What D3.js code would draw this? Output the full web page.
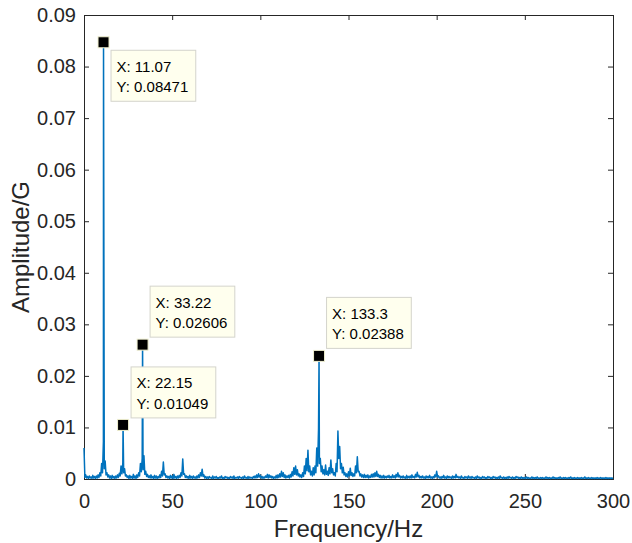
<!DOCTYPE html>
<html lang="en">

<head>
  <meta charset="utf-8">
  <title>Amplitude spectrum</title>
  <script src="https://cdnjs.cloudflare.com/ajax/libs/d3/7.6.1/d3.min.js"></script>
  <style>
    body { margin: 0; background: white; }
    text { font-family: "Liberation Sans", Arial, sans-serif; }
  </style>
</head>

<body>

  <figure id="chart" style="margin:0"></figure>

  <script>
    // noise floor, one value per Hz from 0 to 300 Hz, in units of 1e-4 G
    const floorAmps = [
      60, 8, 5, 6, 4, 7, 5, 6, 8, 12,
      30, 72, 35, 12, 8, 6, 7, 5, 6, 8,
      11, 25, 30, 20, 8, 6, 7, 5, 9, 6,
      8, 12, 30, 40, 45, 15, 9, 6, 8, 5,
      7, 6, 5, 8, 15, 33, 10, 6, 5, 7,
      6, 9, 5, 6, 7, 12, 39, 10, 6, 5,
      7, 5, 6, 4, 6, 8, 12, 19, 8, 5,
      4, 5, 3, 6, 4, 5, 3, 4, 6, 3,
      5, 4, 3, 5, 4, 6, 3, 4, 5, 3,
      4, 6, 3, 5, 4, 3, 5, 6, 8, 10,
      7, 5, 4, 6, 9, 8, 6, 5, 4, 7,
      8, 10, 15, 12, 8, 6, 7, 9, 14, 22,
      25, 18, 10, 8, 12, 25, 40, 56, 25, 15,
      22, 25, 60, 97, 40, 25, 18, 27, 15, 22,
      37, 20, 12, 30, 93, 63, 30, 23, 12, 10,
      14, 21, 12, 10, 25, 43, 15, 10, 8, 9,
      7, 8, 6, 9, 10, 12, 15, 9, 7, 6,
      7, 5, 6, 7, 5, 8, 6, 9, 12, 7,
      5, 6, 4, 7, 5, 6, 8, 5, 9, 13,
      7, 5, 6, 4, 6, 5, 7, 4, 5, 8,
      15, 6, 4, 5, 7, 4, 6, 5, 4, 6,
      5, 9, 5, 4, 6, 3, 5, 4, 6, 4,
      5, 3, 4, 6, 4, 3, 5, 4, 3, 5,
      4, 3, 5, 4, 3, 4, 6, 3, 4, 3,
      4, 5, 3, 4, 3, 5, 4, 3, 4, 3,
      3, 4, 3, 2, 4, 3, 3, 4, 2, 3,
      3, 2, 4, 3, 3, 2, 4, 3, 2, 3,
      4, 2, 3, 3, 2, 3, 4, 2, 3, 2,
      3, 2, 3, 2, 4, 2, 3, 2, 3, 2,
      2, 3, 2, 3, 2, 2, 3, 2, 2, 2,
      2
    ];

    // troughs between the floor values, at 0.5, 1.5, ... 299.5 Hz, in units of 1e-4 G
    const troughAmps = [
      3, 2, 1, 2, 1, 2, 1, 2, 3, 6,
      12, 20, 8, 4, 2, 1, 2, 1, 2, 3,
      6, 10, 12, 6, 3, 1, 2, 1, 2, 1,
      3, 6, 14, 18, 9, 5, 3, 2, 2, 1,
      2, 1, 2, 3, 6, 8, 3, 2, 1, 2,
      1, 2, 1, 2, 3, 6, 9, 3, 2, 1,
      2, 1, 2, 1, 2, 3, 6, 5, 2, 1,
      1, 2, 1, 1, 2, 1, 1, 2, 1, 1,
      2, 1, 1, 2, 1, 1, 2, 1, 2, 1,
      1, 2, 1, 1, 2, 1, 2, 2, 3, 4,
      2, 1, 2, 3, 2, 3, 2, 1, 2, 2,
      3, 4, 5, 3, 2, 3, 2, 4, 6, 9,
      8, 6, 4, 3, 5, 10, 16, 14, 8, 6,
      8, 12, 25, 30, 14, 10, 8, 9, 7, 10,
      12, 8, 6, 14, 40, 20, 12, 8, 5, 4,
      6, 7, 5, 6, 12, 14, 6, 4, 3, 3,
      3, 2, 3, 4, 4, 5, 5, 3, 2, 2,
      2, 2, 3, 2, 2, 3, 2, 4, 4, 2,
      2, 2, 1, 2, 2, 2, 3, 2, 4, 4,
      2, 2, 2, 1, 2, 2, 2, 1, 2, 4,
      4, 2, 1, 2, 2, 1, 2, 2, 1, 2,
      2, 3, 2, 1, 2, 1, 2, 1, 2, 1,
      2, 1, 1, 2, 1, 1, 2, 1, 1, 2,
      1, 1, 2, 1, 1, 1, 2, 1, 1, 1,
      1, 2, 1, 1, 1, 2, 1, 1, 1, 1,
      1, 1, 1, 1, 1, 1, 1, 1, 1, 1,
      1, 1, 1, 1, 1, 1, 1, 1, 1, 1,
      1, 1, 1, 1, 1, 1, 1, 1, 1, 1,
      1, 1, 1, 1, 1, 1, 1, 1, 1, 1,
      1, 1, 1, 1, 1, 1, 1, 1, 1, 1
    ];

    // marked peaks (data tips)
    const peakFreqs = [11.07, 22.15, 33.22, 133.3];
    const peakAmps = [0.08471, 0.01049, 0.02606, 0.02388];

    const xTicks = [0, 50, 100, 150, 200, 250, 300];
    const yTicks = [0, 0.01, 0.02, 0.03, 0.04, 0.05, 0.06, 0.07, 0.08, 0.09];

    createChart('figure#chart', 632, 543);

    function createChart(elementId, width, height) {

      const margin = { left: 84, top: 15, right: 19, bottom: 64 };
      const w = width - margin.left - margin.right;
      const h = height - margin.top - margin.bottom;

      // spectrum points: floor grid, troughs and peaks merged by frequency
      const spectrum = floorAmps.map((a, i) => ({ f: i, a: a * 1e-4 }))
        .concat(troughAmps.map((a, i) => ({ f: i + 0.5, a: a * 1e-4 })))
        .concat(peakFreqs.map((f, i) => ({ f: f, a: peakAmps[i] })))
        .sort((p, q) => p.f - q.f);

      const svg = d3.select(elementId)
        .append('svg')
        .attr('width', width)
        .attr('height', height)
        .append('g')
        .attr('transform', `translate(${margin.left}, ${margin.top})`);

      const xScale = d3.scaleLinear().domain([0, 300]).range([0, w]);
      const yScale = d3.scaleLinear().domain([0, 0.09]).range([h, 0]);

      const axisColor = '#262626';
      const tickSize = 5;

      // bottom / top axes, ticks pointing inward
      const xAxis = svg.append('g')
        .attr('transform', `translate(0, ${h})`)
        .call(d3.axisBottom(xScale).tickValues(xTicks).tickSize(-tickSize).tickPadding(15)
          .tickFormat(d3.format('d')));
      svg.append('g')
        .call(d3.axisTop(xScale).tickValues(xTicks).tickSize(-tickSize).tickFormat(''));

      // left / right axes
      svg.append('g')
        .call(d3.axisLeft(yScale).tickValues(yTicks).tickSize(-tickSize).tickPadding(8)
          .tickFormat(d => d === 0 ? '0' : d3.format('.2f')(d)));
      svg.append('g')
        .attr('transform', `translate(${w}, 0)`)
        .call(d3.axisRight(yScale).tickValues(yTicks).tickSize(-tickSize).tickFormat(''));

      svg.selectAll('.domain, .tick line')
        .attr('stroke', axisColor)
        .attr('stroke-width', 1);
      svg.selectAll('.tick text')
        .attr('fill', axisColor)
        .style('font-size', '20px');
      xAxis.selectAll('.tick text').attr('dy', '0.71em');

      // axis labels
      svg.append('text')
        .attr('x', w / 2)
        .attr('y', h + 58)
        .attr('text-anchor', 'middle')
        .attr('fill', axisColor)
        .style('font-size', '24px')
        .text('Frequency/Hz');

      svg.append('text')
        .attr('transform', `translate(${-55}, ${h / 2}) rotate(-90)`)
        .attr('text-anchor', 'middle')
        .attr('fill', axisColor)
        .style('font-size', '24px')
        .text('Amplitude/G');

      // spectrum line
      const line = d3.line()
        .x(p => xScale(p.f))
        .y(p => yScale(p.a));

      svg.append('path')
        .datum(spectrum)
        .attr('d', line)
        .attr('fill', 'none')
        .attr('stroke', '#0072BD')
        .attr('stroke-width', 1.5)
        .attr('stroke-linejoin', 'round');

      // data tips: box offset from the marker, in px
      const tipOffsets = [[7.5, 8], [8, -58], [7.5, -58.5], [7.5, -58.5]];

      peakFreqs.forEach((f, i) => {
        const cx = xScale(f);
        const cy = yScale(peakAmps[i]);
        const g = svg.append('g')
          .attr('transform', `translate(${cx + tipOffsets[i][0]}, ${cy + tipOffsets[i][1]})`);
        const box = g.append('rect')
          .attr('height', 51)
          .attr('fill', '#ffffee')
          .attr('stroke', '#d4d4cc')
          .attr('stroke-width', 1);
        const t1 = g.append('text')
          .attr('x', 5.5).attr('y', 21.5)
          .style('font-size', '15px')
          .text('X: ' + f);
        const t2 = g.append('text')
          .attr('x', 5.5).attr('y', 42)
          .style('font-size', '15px')
          .text('Y: ' + peakAmps[i]);
        const tw = Math.max(t1.node().getComputedTextLength(), t2.node().getComputedTextLength());
        box.attr('width', tw + 13);

        svg.append('rect')
          .attr('x', cx - 5.5)
          .attr('y', cy - 5.5)
          .attr('width', 11)
          .attr('height', 11)
          .attr('fill', 'black')
          .attr('stroke', '#f0f0d0')
          .attr('stroke-width', 1);
      });
    }
  </script>

</body>

</html>
